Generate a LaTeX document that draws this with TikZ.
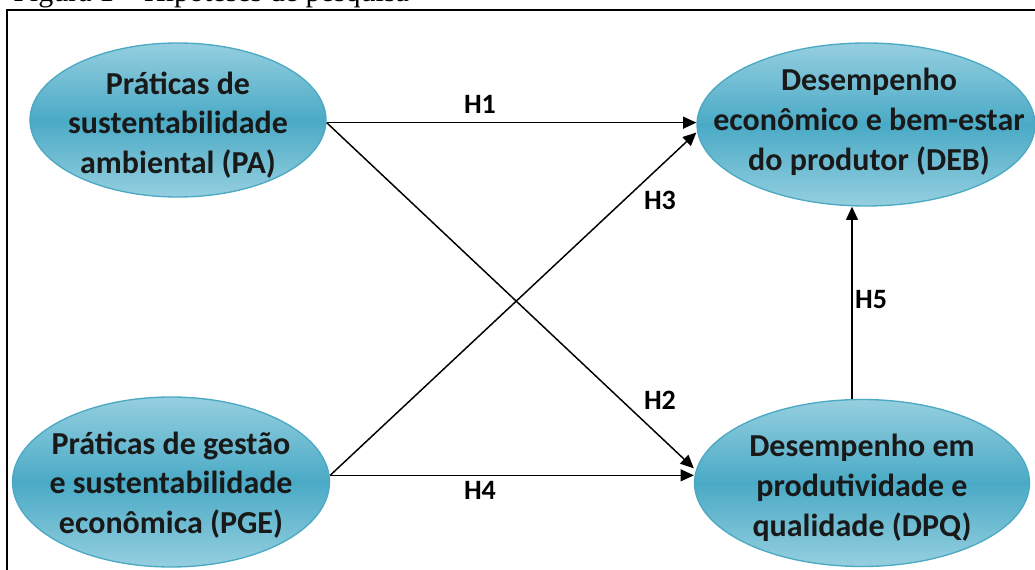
\documentclass[tikz,border=0pt]{standalone}
\usepackage{fontspec}
\setmainfont{Carlito}
\newfontfamily\capfont{Liberation Serif}
\usetikzlibrary{shapes.geometric,arrows.meta}
\definecolor{aqualight}{HTML}{95CFDF}
\definecolor{aquadark}{HTML}{4AAAC6}
\definecolor{aquaedge}{HTML}{4BA9C3}
\begin{document}
\begin{tikzpicture}[x=0.75pt,y=-0.75pt,
  construct/.style={ellipse, draw=aquaedge, line width=1pt,
    top color=aqualight, bottom color=aqualight, middle color=aquadark,
    inner sep=0pt},
  ctext/.style={inner sep=0pt, align=center, text=black!90,
    font=\fontsize{24}{29.8}\selectfont\bfseries},
  hyp/.style={-{Triangle[length=10pt,width=9pt]}, line width=1.1pt},
  hlabel/.style={inner sep=1pt, font=\fontsize{21}{25}\selectfont\bfseries}
]
\useasboundingbox (0,0) rectangle (1035,570);

% caption and open frame
\node[anchor=base west, inner sep=0pt, font=\capfont\fontsize{22.5}{26}\selectfont]
  (caption) at (13,1.5) {Figura 1 – Hipóteses de pesquisa};
\draw[line width=1.2pt] (7,580) -- (7,10) -- (1045,10);

% constructs
\node[construct, minimum width=222pt, minimum height=115.5pt] (PA) at (178,120) {};
\node[ctext] (PAt) at (178,125) {Práticas de\\sustentabilidade\\ambiental (PA)};

\node[construct, minimum width=253.5pt, minimum height=122.25pt] (DEB) at (866,124.5) {};
\node[ctext] (DEBt) at (869,122) {Desempenho\\econômico e bem-estar\\do produtor (DEB)};

\node[construct, minimum width=251.25pt, minimum height=125.25pt] (DPQ) at (862,483) {};
\node[ctext] (DPQt) at (862,488) {Desempenho em\\produtividade e\\qualidade (DPQ)};

\node[construct, minimum width=237.75pt, minimum height=127.5pt] (PGE) at (171,482) {};
\node[ctext] (PGEt) at (171,485) {Práticas de gestão\\e sustentabilidade\\econômica (PGE)};

% connection points
\coordinate (paOut) at ([yshift=-2pt]PA.east);
\coordinate (pgeOut) at ([yshift=5pt]PGE.east);
\coordinate (debH3) at ([yshift=-6pt]DEB.west);
\coordinate (dpqH2) at ([yshift=11pt]DPQ.west);
\coordinate (dpqTop) at ([xshift=-7.5pt]DPQ.north);

% hypotheses
\draw[hyp] (paOut) -- (paOut -| DEB.west);
\draw[hyp] (paOut) -- (dpqH2);
\draw[hyp] (pgeOut) -- (debH3);
\draw[hyp] (pgeOut) -- (pgeOut -| DPQ.west);
\draw[hyp] (dpqTop) -- (dpqTop |- DEB.south);

\node[hlabel] (h1) at (480,104) {H1};
\node[hlabel] (h2) at (660,400) {H2};
\node[hlabel] (h3) at (660,200) {H3};
\node[hlabel] (h4) at (480,490) {H4};
\node[hlabel] (h5) at (871,300) {H5};
\end{tikzpicture}
\end{document}
